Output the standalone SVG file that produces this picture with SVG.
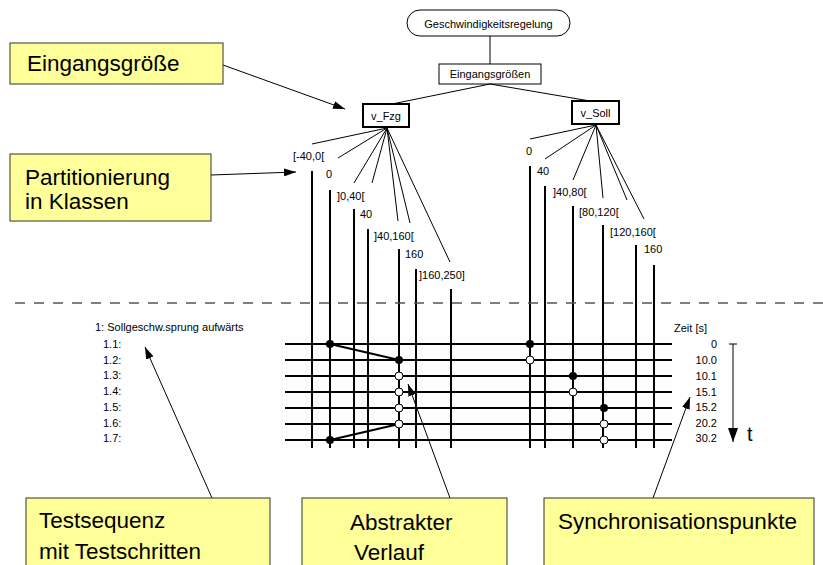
<svg xmlns="http://www.w3.org/2000/svg" width="823" height="565" viewBox="0 0 823 565">
  <style>
    text { font-family: "Liberation Sans", Arial, sans-serif; fill: #000; }
    .sm { font-size: 11px; }
    .big { font-size: 22.5px; }
    .note rect { fill: #FFFF99; stroke: #333; stroke-width: 1; }
    .thin { stroke: #000; stroke-width: 1; fill: none; }
    .bar { stroke: #000; stroke-width: 2; fill: none; }
    .dot { fill: #000; }
    .ring { fill: #fff; stroke: #000; stroke-width: 1; }
    .call { stroke: #000; stroke-width: 1; fill: none; marker-end: url(#head); }
  </style>
  <defs>
    <marker id="head" viewBox="0 0 12 8" refX="12" refY="4" markerWidth="12" markerHeight="8" markerUnits="userSpaceOnUse" orient="auto">
      <path d="M0,0 L12,4 L0,8 Z" fill="#000"/>
    </marker>
    <marker id="tip" viewBox="0 0 14 10" refX="14" refY="5" markerWidth="14" markerHeight="10" markerUnits="userSpaceOnUse" orient="auto">
      <path d="M0,0 L14,5 L0,10 Z" fill="#000"/>
    </marker>
  </defs>

  <!-- classification tree -->
  <g id="root">
    <rect x="407" y="10" width="163" height="26" rx="13" fill="#fff" stroke="#000" stroke-width="1"/>
    <text class="sm" x="488.5" y="27.5" text-anchor="middle">Geschwindigkeitsregelung</text>
  </g>
  <g id="inputs">
    <rect x="439" y="64" width="102" height="20" fill="#fff" stroke="#000" stroke-width="1"/>
    <text class="sm" x="490" y="78" text-anchor="middle">Eingangsgrößen</text>
  </g>
  <g id="v_Fzg">
    <rect x="363" y="104" width="46" height="23" fill="#fff" stroke="#000" stroke-width="2"/>
    <text class="sm" x="386" y="119.5" text-anchor="middle">v_Fzg</text>
  </g>
  <g id="v_Soll">
    <rect x="572" y="101" width="47" height="23" fill="#fff" stroke="#000" stroke-width="2"/>
    <text class="sm" x="595.5" y="116.5" text-anchor="middle">v_Soll</text>
  </g>

  <g id="connectors">
    <!-- tree edges -->
    <line class="thin" x1="490" y1="36" x2="490" y2="64"/>
    <line class="thin" x1="490" y1="84" x2="392" y2="104"/>
    <line class="thin" x1="490" y1="84" x2="590" y2="101"/>
    <!-- v_Fzg classes -->
    <g class="thin">
      <line x1="387" y1="128" x2="312" y2="144"/>
      <line x1="387" y1="128" x2="338" y2="158"/>
      <line x1="387" y1="128" x2="354" y2="183"/>
      <line x1="387" y1="128" x2="372" y2="183"/>
      <line x1="387" y1="128" x2="398" y2="221"/>
      <line x1="387" y1="128" x2="410" y2="223"/>
      <line x1="387" y1="128" x2="450" y2="262"/>
    </g>
    <!-- v_Soll classes -->
    <g class="thin">
      <line x1="596" y1="125" x2="530" y2="139"/>
      <line x1="596" y1="125" x2="545" y2="159"/>
      <line x1="596" y1="125" x2="573" y2="180"/>
      <line x1="596" y1="125" x2="603" y2="198"/>
      <line x1="596" y1="125" x2="627" y2="200"/>
      <line x1="596" y1="125" x2="644" y2="219"/>
    </g>
    <!-- class columns -->
    <g class="bar">
      <line x1="312" y1="171" x2="312" y2="448"/>
      <line x1="330" y1="190" x2="330" y2="448"/>
      <line x1="354" y1="209" x2="354" y2="448"/>
      <line x1="368" y1="229" x2="368" y2="448"/>
      <line x1="399" y1="249" x2="399" y2="448"/>
      <line x1="416" y1="269" x2="416" y2="448"/>
      <line x1="451" y1="289" x2="451" y2="448"/>
      <line x1="530" y1="166" x2="530" y2="448"/>
      <line x1="545" y1="186" x2="545" y2="448"/>
      <line x1="573" y1="206" x2="573" y2="448"/>
      <line x1="603" y1="225" x2="603" y2="448"/>
      <line x1="636" y1="245" x2="636" y2="448"/>
      <line x1="654" y1="265" x2="654" y2="448"/>
    </g>
    <!-- test step rows -->
    <g class="bar">
      <line x1="285" y1="344" x2="672" y2="344"/>
      <line x1="285" y1="360" x2="672" y2="360"/>
      <line x1="285" y1="376" x2="672" y2="376"/>
      <line x1="285" y1="392" x2="672" y2="392"/>
      <line x1="285" y1="408" x2="672" y2="408"/>
      <line x1="285" y1="424" x2="672" y2="424"/>
      <line x1="285" y1="440" x2="672" y2="440"/>
    </g>
    <!-- abstract course of v_Fzg -->
    <line class="bar" x1="330" y1="344" x2="399" y2="360"/>
    <line class="bar" x1="399" y1="424" x2="330" y2="440"/>

    <!-- separator -->
    <line x1="15" y1="303" x2="823" y2="303" stroke="#555" stroke-width="1.5" stroke-dasharray="10 9"/>

    <!-- callouts -->
    <line class="call" x1="223" y1="65" x2="345" y2="109"/>
    <line class="call" x1="211" y1="175" x2="296" y2="172"/>
    <line class="call" x1="212" y1="498" x2="145" y2="347"/>
    <line class="call" x1="450" y1="498" x2="408" y2="384"/>
    <line class="call" x1="653" y1="498" x2="690" y2="397"/>

    <!-- time axis -->
    <line class="thin" x1="729" y1="344" x2="737" y2="344"/>
    <line x1="733" y1="344" x2="733" y2="442" stroke="#000" stroke-width="1" marker-end="url(#tip)"/>
  </g>

  <!-- class labels -->
  <g id="fzg-classes" class="sm">
    <text class="sm" x="293" y="160">[-40,0[</text>
    <text class="sm" x="326" y="178">0</text>
    <text class="sm" x="337" y="200">]0,40[</text>
    <text class="sm" x="360" y="218">40</text>
    <text class="sm" x="374" y="240">]40,160[</text>
    <text class="sm" x="405" y="258">160</text>
    <text class="sm" x="419" y="279">]160,250]</text>
  </g>
  <g id="soll-classes">
    <text class="sm" x="526" y="155">0</text>
    <text class="sm" x="537" y="175">40</text>
    <text class="sm" x="553" y="196">]40,80[</text>
    <text class="sm" x="579" y="216">[80,120[</text>
    <text class="sm" x="610" y="236">[120,160[</text>
    <text class="sm" x="644" y="253">160</text>
  </g>

  <!-- marks in the test table -->
  <g id="marks">
    <circle class="dot" cx="330" cy="344" r="4"/>
    <circle class="dot" cx="399" cy="360" r="4"/>
    <circle class="ring" cx="399" cy="376" r="4"/>
    <circle class="ring" cx="399" cy="392" r="4"/>
    <circle class="ring" cx="399" cy="408" r="4"/>
    <circle class="ring" cx="399" cy="424" r="4"/>
    <circle class="dot" cx="330" cy="440" r="4"/>
    <circle class="dot" cx="530" cy="344" r="4"/>
    <circle class="ring" cx="530" cy="360" r="4"/>
    <circle class="dot" cx="573" cy="376" r="4"/>
    <circle class="ring" cx="573" cy="392" r="4"/>
    <circle class="dot" cx="604" cy="408" r="4"/>
    <circle class="ring" cx="604" cy="424" r="4"/>
    <circle class="ring" cx="604" cy="440" r="4"/>
  </g>

  <!-- test sequence -->
  <g id="sequence">
    <text class="sm" x="95" y="331">1: Sollgeschw.sprung aufwärts</text>
    <text class="sm" x="103" y="348">1.1:</text>
    <text class="sm" x="103" y="363.7">1.2:</text>
    <text class="sm" x="103" y="379.4">1.3:</text>
    <text class="sm" x="103" y="395.1">1.4:</text>
    <text class="sm" x="103" y="410.8">1.5:</text>
    <text class="sm" x="103" y="426.5">1.6:</text>
    <text class="sm" x="103" y="442.2">1.7:</text>
  </g>

  <!-- time column -->
  <g id="times">
    <text class="sm" x="674" y="332">Zeit [s]</text>
    <g text-anchor="end">
      <text class="sm" x="717" y="348">0</text>
      <text class="sm" x="717" y="364">10.0</text>
      <text class="sm" x="717" y="380">10.1</text>
      <text class="sm" x="717" y="396">15.1</text>
      <text class="sm" x="717" y="411">15.2</text>
      <text class="sm" x="717" y="427">20.2</text>
      <text class="sm" x="717" y="442">30.2</text>
    </g>
    <text x="747" y="441" font-size="20">t</text>
  </g>

  <!-- annotation boxes -->
  <g id="note-input" class="note">
    <rect x="10" y="43" width="213" height="41"/>
    <text class="big" x="27" y="71">Eingangsgröße</text>
  </g>
  <g id="note-partition" class="note">
    <rect x="10" y="154" width="201" height="67"/>
    <text class="big" x="25" y="185">Partitionierung</text>
    <text class="big" x="25" y="209">in Klassen</text>
  </g>
  <g id="note-sequence" class="note">
    <rect x="26" y="498" width="244" height="80"/>
    <text class="big" x="39" y="528">Testsequenz</text>
    <text class="big" x="39" y="559">mit Testschritten</text>
  </g>
  <g id="note-course" class="note">
    <rect x="302" y="498" width="205" height="80"/>
    <text class="big" x="350" y="530">Abstrakter</text>
    <text class="big" x="354" y="560">Verlauf</text>
  </g>
  <g id="note-sync" class="note">
    <rect x="544" y="498" width="270" height="80"/>
    <text class="big" x="558" y="529">Synchronisationspunkte</text>
  </g>
</svg>
